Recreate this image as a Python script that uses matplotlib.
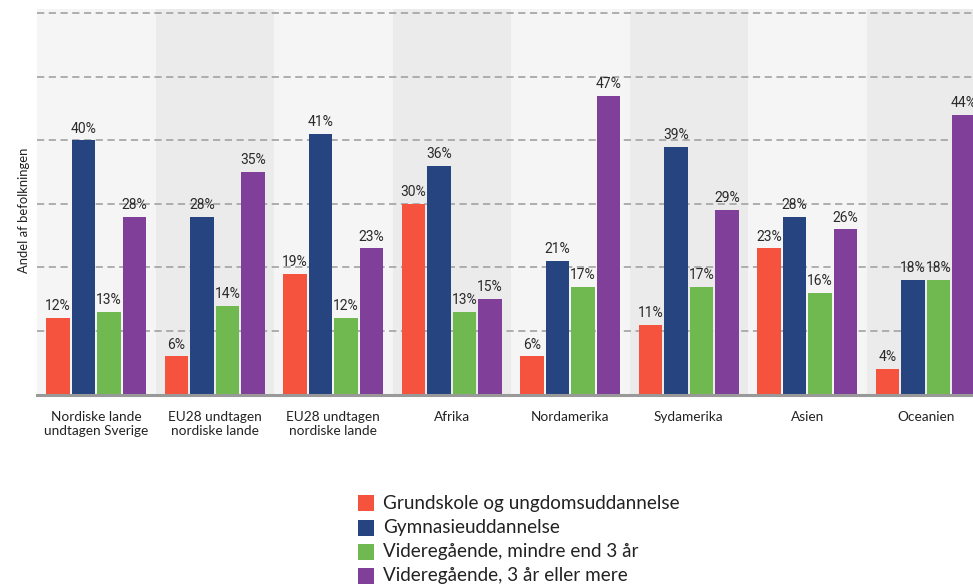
import matplotlib
matplotlib.use("Agg")
import matplotlib.pyplot as plt
from matplotlib.patches import Rectangle
import numpy as np

categories = [
    "Nordiske lande\nundtagen Sverige",
    "EU28 undtagen\nnordiske lande",
    "EU28 undtagen\nnordiske lande",
    "Afrika",
    "Nordamerika",
    "Sydamerika",
    "Asien",
    "Oceanien",
]
series_names = [
    "Grundskole og ungdomsuddannelse",
    "Gymnasieuddannelse",
    "Videregående, mindre end 3 år",
    "Videregående, 3 år eller mere",
]
grundskole = [12, 6, 19, 30, 6, 11, 23, 4]
gymnasie = [40, 28, 41, 36, 21, 39, 28, 18]
videre_kort = [13, 14, 12, 13, 17, 17, 16, 18]
videre_lang = [28, 35, 23, 15, 47, 29, 26, 44]
y_ticks = [10, 20, 30, 40, 50, 60]

series = [grundskole, gymnasie, videre_kort, videre_lang]
colors = ["#F5533D", "#264580", "#70B950", "#80409A"]

W, H = 973, 585
fig = plt.figure(figsize=(W / 100, H / 100), dpi=100)
left_px, top_px, base_px = 37, 9, 394.5
group_px = 118.5
ax = fig.add_axes([left_px / W, 1 - base_px / H,
                   len(categories) * group_px / W, (base_px - top_px) / H])

n = len(categories)
x = np.arange(n)
ax.set_xlim(-0.5, n - 0.5)
ax.set_ylim(0, 60.7)
ax.set_facecolor("#F5F5F5")

# alternating shaded columns
for i in range(n):
    if i % 2 == 1:
        ax.axvspan(i - 0.5, i + 0.5, color="#EBEBEB", zorder=0, lw=0)

for t in y_ticks:
    ax.axhline(t, color="#A8A8A8", lw=1.3, ls=(0, (4, 2.5)), zorder=1)

step = 0.215
width = 0.197
label_font = "Roboto"
for k, (vals, col) in enumerate(zip(series, colors)):
    pos = x + (k - 1.5) * step
    bars = ax.bar(pos, vals, width=width, color=col, zorder=2, lw=0)
    for b, v in zip(bars, vals):
        ax.annotate(f"{v}%", (b.get_x() + b.get_width() / 2, v),
                    xytext=(0, 3.5), textcoords="offset points",
                    ha="center", va="bottom", fontsize=10,
                    family=label_font, color="#2a2a2a", zorder=3)

ax.axhline(0, color="#999999", lw=2.2, zorder=4, clip_on=False)

for s in ax.spines.values():
    s.set_visible(False)
ax.set_yticks([])
ax.set_xticks(x)
ax.set_xticklabels(categories, fontsize=9.8, family="Lato", color="#222222",
                   linespacing=1.2)
ax.tick_params(axis="x", length=0, pad=12)
ax.set_ylabel("Andel af befolkningen", fontsize=9.4, family="Lato",
              color="#222222")
ax.yaxis.set_label_coords(-0.0074, 0.479)

# legend
leg_x, leg_text_x = 358, 383
rows_y = [503, 528, 552, 576]
sq = 15.5
for name, col, yy in zip(series_names, colors, rows_y):
    fig.patches.append(Rectangle((leg_x / W, 1 - (yy + sq / 2) / H), sq / W, sq / H,
                                 transform=fig.transFigure, facecolor=col,
                                 edgecolor="none", figure=fig))
    fig.text(leg_text_x / W, 1 - yy / H, name, fontsize=13.6, family="Lato",
             color="#222222", va="center", ha="left")

fig.savefig("out.png", dpi=100)
